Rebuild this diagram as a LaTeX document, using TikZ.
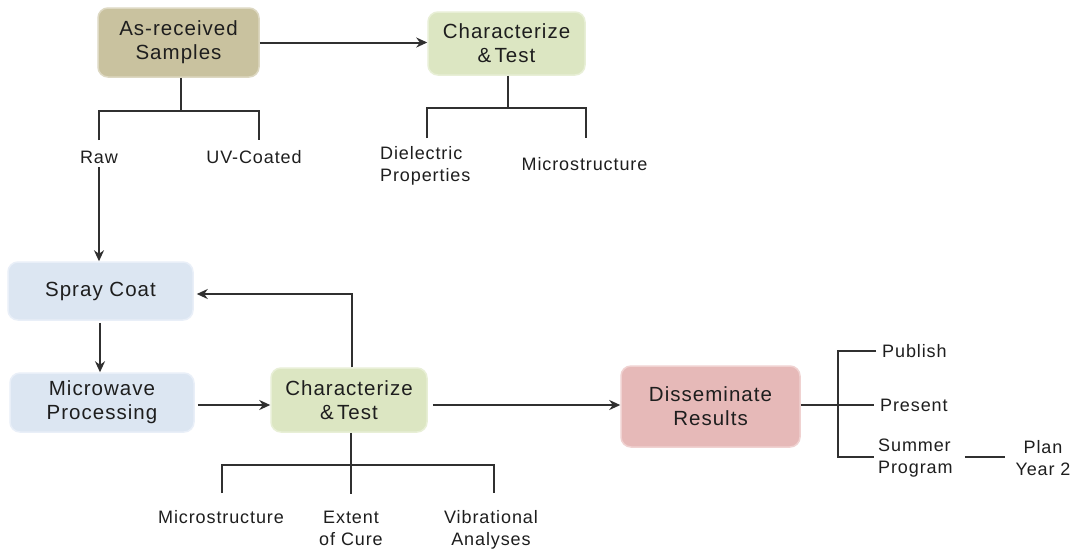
\documentclass[tikz,border=0pt]{standalone}
\usepackage{fontspec}
\setmainfont[LetterSpace=5]{Liberation Sans}
\usetikzlibrary{arrows.meta}
\definecolor{tanfill}{HTML}{C9C29F}
\definecolor{tanedge}{HTML}{DDD8C2}
\definecolor{grnfill}{HTML}{DCE6C2}
\definecolor{grnedge}{HTML}{E8EFD6}
\definecolor{blufill}{HTML}{DCE6F2}
\definecolor{bluedge}{HTML}{E9EFF8}
\definecolor{pnkfill}{HTML}{E6B9B8}
\definecolor{pnkedge}{HTML}{F0D2D1}
\definecolor{inkc}{HTML}{1E1E1E}
\definecolor{linec}{HTML}{303030}
\begin{document}
\begin{tikzpicture}[x=1pt,y=-1pt,
  box/.style={rounded corners=10pt, line width=1.5pt, align=center, inner sep=0pt,
    font=\fontsize{20.5}{24}\selectfont, text=inkc},
  lbl/.style={align=center, inner sep=0pt, font=\fontsize{18}{22}\selectfont, text=inkc},
  ln/.style={line width=2pt, draw=linec},
  arr/.style={ln, -{Stealth[length=11pt,width=10pt]}}]
\useasboundingbox (0,0) rectangle (1075,550);
\fill[white] (0,0) rectangle (1075,550);
% boxes
\node[box, fill=tanfill, draw=tanedge, minimum width=161pt, minimum height=69pt] (ar) at (178.5,42.5) {As-received\\Samples};
\node[box, fill=grnfill, draw=grnedge, minimum width=157pt, minimum height=63pt] (ct1) at (506.5,43.5) {Characterize\\\&\,Test};
\node[box, fill=blufill, draw=bluedge, minimum width=185pt, minimum height=58pt] (spray) at (100.5,291) {Spray Coat};
\node[box, fill=blufill, draw=bluedge, minimum width=184pt, minimum height=59pt] (micro) at (102,402.5) {Microwave\\Processing};
\node[box, fill=grnfill, draw=grnedge, minimum width=156pt, minimum height=64pt] (ct2) at (349,400) {Characterize\\\&\,Test};
\node[box, fill=pnkfill, draw=pnkedge, minimum width=179pt, minimum height=81pt] (dis) at (710.5,406.5) {Disseminate\\Results};
% labels
\node[lbl] (raw) at (99,157) {Raw};
\node[lbl] (uv) at (254,157) {UV-Coated};
\node[lbl, anchor=west, align=left] (diel) at (380,166) {Dielectric\\Properties};
\node[lbl] (ms1) at (584.5,164) {Microstructure};
\node[lbl] (ms2) at (221,517) {Microstructure};
\node[lbl] (ext) at (351,528) {Extent\\of Cure};
\node[lbl] (vib) at (491,530) {Vibrational\\Analyses};
\node[lbl, anchor=west] (pub) at (882,351) {Publish};
\node[lbl, anchor=west] (pres) at (880,405) {Present};
\node[lbl, anchor=west, align=left] (sum) at (878,458) {Summer\\Program};
\node[lbl] (plan) at (1043,458) {Plan\\Year 2};
% junction coordinates
\coordinate (j1) at (181,111);
\coordinate (j1a) at (99,140);
\coordinate (j1b) at (259,140);
\coordinate (j2) at (508,108);
\coordinate (j2a) at (427,138);
\coordinate (j2b) at (586,138);
\coordinate (j3) at (351,465);
\coordinate (j3a) at (222,493);
\coordinate (j3b) at (494,493);
\coordinate (j3c) at (351,494);
\coordinate (dv) at (838,405);
\coordinate (sx) at (100,0);
% connectors
\draw[arr] (ar.east) -- (ar.east -| ct1.west);
\draw[ln] (ar.south -| j1) -- (j1);
\draw[ln] (j1a) -- (j1a |- j1) -- (j1b |- j1) -- (j1b);
\draw[ln] (ct1.south -| j2) -- (j2);
\draw[ln] (j2a) -- (j2a |- j2) -- (j2b |- j2) -- (j2b);
\draw[arr] ([yshift=-4pt]raw.south) -- (raw.south |- spray.north);
\draw[arr] ([yshift=-2pt]spray.south -| sx) -- (micro.north -| sx);
\draw[arr] ([xshift=3pt]micro.east |- 0,405) -- (ct2.west |- 0,405);
\draw[arr] (ct2.north -| 352,0) -- (352,294) -- ([xshift=3pt]spray.east |- 0,294);
\draw[arr] ([xshift=5pt]ct2.east |- 0,405) -- (dis.west |- 0,405);
\draw[ln] (ct2.south -| j3) -- (j3c);
\draw[ln] (j3a) -- (j3a |- j3) -- (j3b |- j3) -- (j3b);
\draw[ln] (dis.east |- dv) -- ([xshift=-6pt]pres.west);
\draw[ln] ([xshift=-6pt]pub.west) -- (dv |- pub.west) -- (dv |- 0,457) -- ([xshift=-4pt]sum.west |- 0,457);
\draw[ln] ([xshift=12pt]sum.east |- 0,457) -- ([xshift=-10pt]plan.west |- 0,457);
\end{tikzpicture}
\end{document}
